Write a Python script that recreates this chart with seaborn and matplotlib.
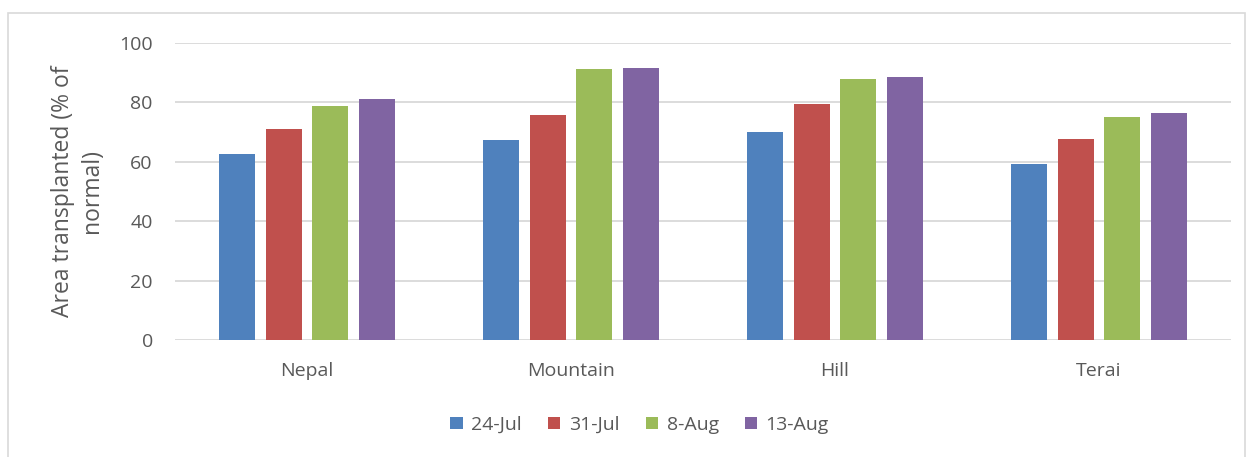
import matplotlib
matplotlib.use("Agg")
import matplotlib.pyplot as plt
import seaborn as sns
import pandas as pd
from matplotlib.patches import Rectangle

regions = ["Nepal", "Mountain", "Hill", "Terai"]
dates = ["24-Jul", "31-Jul", "8-Aug", "13-Aug"]
v_24jul = [62.7, 67.4, 70.1, 59.2]
v_31jul = [70.9, 75.8, 79.4, 67.5]
v_8aug = [78.8, 91.2, 87.7, 74.9]
v_13aug = [81.0, 91.5, 88.5, 76.4]
colors = ["#4F81BD", "#C0504D", "#9BBB59", "#8064A2"]

series = [v_24jul, v_31jul, v_8aug, v_13aug]
df = pd.DataFrame(
    [(r, d, vals[i]) for d, vals in zip(dates, series) for i, r in enumerate(regions)],
    columns=["region", "date", "value"],
)

sns.set_theme(style="white")
plt.rcParams["font.family"] = ["Open Sans", "DejaVu Sans"]
text_color = "#595959"

fig = plt.figure(figsize=(12.53, 4.57), dpi=100)
ax = fig.add_axes([0.1397, 0.256, 0.8428, 0.6506])

sns.barplot(
    data=df, x="region", y="value", hue="date",
    order=regions, hue_order=dates, palette=colors,
    width=0.705, gap=0.22, saturation=1, ax=ax, legend=True,
    edgecolor="none",
)

ax.set_xlim(-0.5, 3.5)
ax.set_ylim(0, 100)
ax.set_yticks([0, 20, 40, 60, 80, 100])
ax.yaxis.grid(True, color="#d9d9d9", linewidth=1.3)
ax.set_axisbelow(True)
for s in ax.spines.values():
    s.set_visible(False)
ax.tick_params(axis="both", length=0, colors=text_color, labelsize=14)
ax.tick_params(axis="y", pad=16)
ax.tick_params(axis="x", pad=16)
ax.set_xlabel("")
ax.set_ylabel("Area transplanted (% of\nnormal)", color=text_color, fontsize=16.5,
              linespacing=1.25, labelpad=11)

leg = ax.legend(
    loc="center", bbox_to_anchor=(0.44, -0.286), ncol=4, frameon=False,
    fontsize=14, handlelength=0.62, handleheight=0.62, handletextpad=0.45,
    columnspacing=1.35,
)
for t in leg.get_texts():
    t.set_color(text_color)

# outer chart frame
fig.patches.append(Rectangle((8 / 1253, -0.05), 1237 / 1253, 1 - 13 / 457 + 0.05,
                             transform=fig.transFigure, fill=False,
                             edgecolor="#d9d9d9", linewidth=1.2))

fig.savefig("out.png", dpi=100)
